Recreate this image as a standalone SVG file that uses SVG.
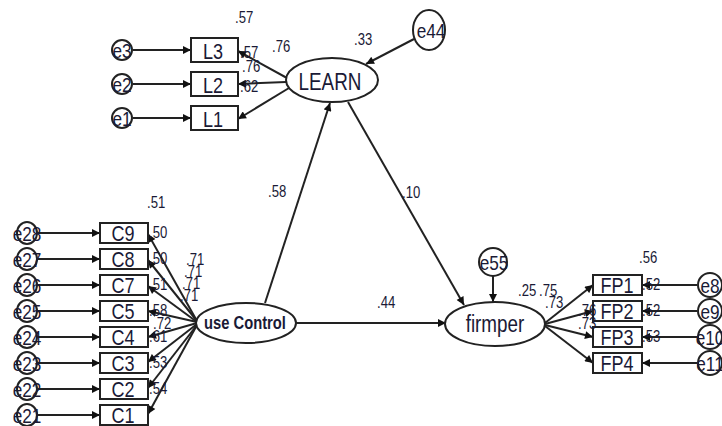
<svg xmlns="http://www.w3.org/2000/svg" width="722" height="426" viewBox="0 0 722 426">
  <defs>
    <marker id="arr" viewBox="0 0 10 10" refX="10" refY="5" markerWidth="9" markerHeight="8" markerUnits="userSpaceOnUse" orient="auto">
      <path d="M0,0 L10,5 L0,10 z" fill="#111"/>
    </marker>
    <style>
      .ln { stroke: #222; stroke-width: 2; fill: none; }
      .shp { stroke: #222; stroke-width: 2; fill: #fff; }
      .t { font-family: "Liberation Sans", Arial, sans-serif; fill: #1a1a36; }
      /* narrow sans: Arial metrics squeezed around each label's own centre */
      text { transform-box: fill-box; transform-origin: center; transform: scaleX(0.82); }
      .num { font-size: 16px; }
      .big { font-size: 23px; text-anchor: middle; }
      .box { font-size: 22px; text-anchor: middle; }
      .err { font-size: 21px; text-anchor: middle; }
    </style>
  </defs>
  <rect width="722" height="426" fill="#fff"/>

  <!-- connectors -->
  <g id="connectors" class="ln">
    <!-- LEARN indicators -->
    <line x1="133" y1="50" x2="191" y2="50" marker-end="url(#arr)"/>
    <line x1="133" y1="84" x2="191" y2="84" marker-end="url(#arr)"/>
    <line x1="133" y1="118" x2="191" y2="118" marker-end="url(#arr)"/>
    <line x1="287" y1="78" x2="238" y2="51" marker-end="url(#arr)"/>
    <line x1="286" y1="82" x2="238" y2="84" marker-end="url(#arr)"/>
    <line x1="289" y1="88" x2="238" y2="119" marker-end="url(#arr)"/>
    <line x1="414" y1="39" x2="366" y2="64" marker-end="url(#arr)"/>
    <!-- structural paths -->
    <line x1="265" y1="303" x2="330" y2="103" marker-end="url(#arr)"/>
    <line x1="348" y1="102" x2="464" y2="305" marker-end="url(#arr)"/>
    <line x1="296" y1="323" x2="446" y2="323" marker-end="url(#arr)"/>
    <line x1="493" y1="276" x2="493" y2="302" marker-end="url(#arr)"/>
    <!-- use Control indicators -->
    <line x1="36" y1="233" x2="100" y2="233" marker-end="url(#arr)"/>
    <line x1="36" y1="259" x2="100" y2="259" marker-end="url(#arr)"/>
    <line x1="36" y1="285" x2="100" y2="285" marker-end="url(#arr)"/>
    <line x1="36" y1="311" x2="100" y2="311" marker-end="url(#arr)"/>
    <line x1="36" y1="337" x2="100" y2="337" marker-end="url(#arr)"/>
    <line x1="36" y1="363" x2="100" y2="363" marker-end="url(#arr)"/>
    <line x1="36" y1="389" x2="100" y2="389" marker-end="url(#arr)"/>
    <line x1="36" y1="415" x2="100" y2="415" marker-end="url(#arr)"/>
    <line x1="197" y1="321" x2="148" y2="234" marker-end="url(#arr)"/>
    <line x1="197" y1="321" x2="148" y2="260" marker-end="url(#arr)"/>
    <line x1="197" y1="322" x2="148" y2="286" marker-end="url(#arr)"/>
    <line x1="197" y1="322" x2="148" y2="311" marker-end="url(#arr)"/>
    <line x1="197" y1="323" x2="148" y2="337" marker-end="url(#arr)"/>
    <line x1="197" y1="324" x2="148" y2="362" marker-end="url(#arr)"/>
    <line x1="197" y1="325" x2="148" y2="388" marker-end="url(#arr)"/>
    <line x1="197" y1="325" x2="148" y2="414" marker-end="url(#arr)"/>
    <!-- firmper indicators -->
    <line x1="545" y1="323" x2="593" y2="285" marker-end="url(#arr)"/>
    <line x1="545" y1="324" x2="593" y2="311" marker-end="url(#arr)"/>
    <line x1="545" y1="325" x2="593" y2="337" marker-end="url(#arr)"/>
    <line x1="545" y1="326" x2="593" y2="363" marker-end="url(#arr)"/>
    <line x1="697" y1="285" x2="642" y2="285" marker-end="url(#arr)"/>
    <line x1="697" y1="311" x2="642" y2="311" marker-end="url(#arr)"/>
    <line x1="697" y1="337" x2="642" y2="337" marker-end="url(#arr)"/>
    <line x1="697" y1="363" x2="642" y2="363" marker-end="url(#arr)"/>
  </g>

  <!-- latent variables -->
  <g id="LEARN">
    <ellipse class="shp" cx="332" cy="80" rx="46" ry="22"/>
    <text class="t big" x="330" y="90">LEARN</text>
    <text class="t num" x="352" y="45">.33</text>
  </g>
  <g id="useControl">
    <ellipse class="shp" cx="246" cy="323" rx="50" ry="20"/>
    <text class="t" x="245" y="329" font-size="18" font-weight="bold" text-anchor="middle">use Control</text>
  </g>
  <g id="firmper">
    <ellipse class="shp" cx="495" cy="324" rx="50" ry="22"/>
    <text class="t big" x="495" y="332" font-size="24">firmper</text>
    <text class="t num" x="516" y="296">.25</text>
  </g>

  <!-- disturbances -->
  <g id="e44">
    <ellipse class="shp" cx="429" cy="30" rx="16" ry="20"/>
    <text class="t err" x="431" y="38">e44</text>
  </g>
  <g id="e55">
    <ellipse class="shp" cx="493" cy="262" rx="14" ry="14"/>
    <text class="t err" x="494" y="270">e55</text>
  </g>

  <!-- LEARN indicators -->
  <g id="L3">
    <rect class="shp" x="191" y="38" width="47" height="24"/>
    <text class="t box" x="213" y="59">L3</text>
    <text class="t num" x="233" y="23">.57</text>
  </g>
  <g id="L2">
    <rect class="shp" x="191" y="72" width="47" height="24"/>
    <text class="t box" x="213" y="93">L2</text>
  </g>
  <g id="L1">
    <rect class="shp" x="191" y="106" width="47" height="24"/>
    <text class="t box" x="213" y="127">L1</text>
  </g>
  <g id="e3">
    <ellipse class="shp" cx="122" cy="50" rx="10" ry="10"/>
    <text class="t err" x="122" y="58">e3</text>
  </g>
  <g id="e2">
    <ellipse class="shp" cx="122" cy="84" rx="10" ry="10"/>
    <text class="t err" x="122" y="92">e2</text>
  </g>
  <g id="e1">
    <ellipse class="shp" cx="122" cy="118" rx="10" ry="10"/>
    <text class="t err" x="122" y="126">e1</text>
  </g>

  <!-- use Control indicators -->
  <g id="C9">
    <rect class="shp" x="100" y="223" width="48" height="20"/>
    <text class="t box" x="123" y="241" font-size="21">C9</text>
  </g>
  <g id="C8">
    <rect class="shp" x="100" y="249" width="48" height="20"/>
    <text class="t box" x="123" y="267" font-size="21">C8</text>
  </g>
  <g id="C7">
    <rect class="shp" x="100" y="275" width="48" height="20"/>
    <text class="t box" x="123" y="293" font-size="21">C7</text>
  </g>
  <g id="C5">
    <rect class="shp" x="100" y="301" width="48" height="20"/>
    <text class="t box" x="123" y="319" font-size="21">C5</text>
  </g>
  <g id="C4">
    <rect class="shp" x="100" y="327" width="48" height="20"/>
    <text class="t box" x="123" y="345" font-size="21">C4</text>
  </g>
  <g id="C3">
    <rect class="shp" x="100" y="353" width="48" height="20"/>
    <text class="t box" x="123" y="371" font-size="21">C3</text>
  </g>
  <g id="C2">
    <rect class="shp" x="100" y="379" width="48" height="20"/>
    <text class="t box" x="123" y="397" font-size="21">C2</text>
  </g>
  <g id="C1">
    <rect class="shp" x="100" y="405" width="48" height="20"/>
    <text class="t box" x="123" y="423" font-size="21">C1</text>
  </g>
  <g id="e28">
    <ellipse class="shp" cx="27" cy="233" rx="10" ry="11"/>
    <text class="t err" x="27" y="241">e28</text>
  </g>
  <g id="e27">
    <ellipse class="shp" cx="27" cy="259" rx="10" ry="11"/>
    <text class="t err" x="27" y="267">e27</text>
  </g>
  <g id="e26">
    <ellipse class="shp" cx="27" cy="285" rx="10" ry="11"/>
    <text class="t err" x="27" y="293">e26</text>
  </g>
  <g id="e25">
    <ellipse class="shp" cx="27" cy="311" rx="10" ry="11"/>
    <text class="t err" x="27" y="319">e25</text>
  </g>
  <g id="e24">
    <ellipse class="shp" cx="27" cy="337" rx="10" ry="11"/>
    <text class="t err" x="27" y="345">e24</text>
  </g>
  <g id="e23">
    <ellipse class="shp" cx="27" cy="363" rx="10" ry="11"/>
    <text class="t err" x="27" y="371">e23</text>
  </g>
  <g id="e22">
    <ellipse class="shp" cx="27" cy="389" rx="10" ry="11"/>
    <text class="t err" x="27" y="397">e22</text>
  </g>
  <g id="e21">
    <ellipse class="shp" cx="27" cy="415" rx="10" ry="11"/>
    <text class="t err" x="27" y="423">e21</text>
  </g>

  <!-- firmper indicators -->
  <g id="FP1">
    <rect class="shp" x="593" y="275" width="49" height="20"/>
    <text class="t box" x="617" y="293" font-size="23">FP1</text>
    <text class="t num" x="637" y="263">.56</text>
  </g>
  <g id="FP2">
    <rect class="shp" x="593" y="301" width="49" height="20"/>
    <text class="t box" x="617" y="319" font-size="23">FP2</text>
  </g>
  <g id="FP3">
    <rect class="shp" x="593" y="327" width="49" height="20"/>
    <text class="t box" x="617" y="345" font-size="23">FP3</text>
  </g>
  <g id="FP4">
    <rect class="shp" x="593" y="353" width="49" height="20"/>
    <text class="t box" x="617" y="371" font-size="23">FP4</text>
  </g>
  <g id="e8">
    <ellipse class="shp" cx="710" cy="285" rx="12" ry="12"/>
    <text class="t err" x="710" y="293">e8</text>
  </g>
  <g id="e9">
    <ellipse class="shp" cx="710" cy="311" rx="12" ry="12"/>
    <text class="t err" x="710" y="319">e9</text>
  </g>
  <g id="e10">
    <ellipse class="shp" cx="710" cy="337" rx="12" ry="12"/>
    <text class="t err" x="710" y="345">e10</text>
  </g>
  <g id="e11">
    <ellipse class="shp" cx="710" cy="363" rx="12" ry="12"/>
    <text class="t err" x="710" y="371">e11</text>
  </g>

  <!-- coefficient labels -->
  <g id="estimates" class="t num">
    <text x="270" y="52">.76</text>
    <text x="238" y="58">.57</text>
    <text x="240" y="72">.76</text>
    <text x="238" y="92">.62</text>
    <text x="266" y="197">.58</text>
    <text x="400" y="198">.10</text>
    <text x="375" y="308">.44</text>
    <text x="145" y="208">.51</text>
    <text x="147" y="238">.50</text>
    <text x="147" y="264">.50</text>
    <text x="147" y="290">.51</text>
    <text x="147" y="316">.58</text>
    <text x="151" y="329">.72</text>
    <text x="147" y="342">.61</text>
    <text x="147" y="368">.53</text>
    <text x="147" y="394">.54</text>
    <text x="184" y="265">.71</text>
    <text x="182" y="277">.71</text>
    <text x="180" y="289">.71</text>
    <text x="178" y="301">.71</text>
    <text x="537" y="296">.75</text>
    <text x="543" y="308">.73</text>
    <text x="576" y="316">.76</text>
    <text x="576" y="329">.73</text>
    <text x="640" y="290">.52</text>
    <text x="640" y="316">.52</text>
    <text x="640" y="342">.53</text>
  </g>
</svg>
